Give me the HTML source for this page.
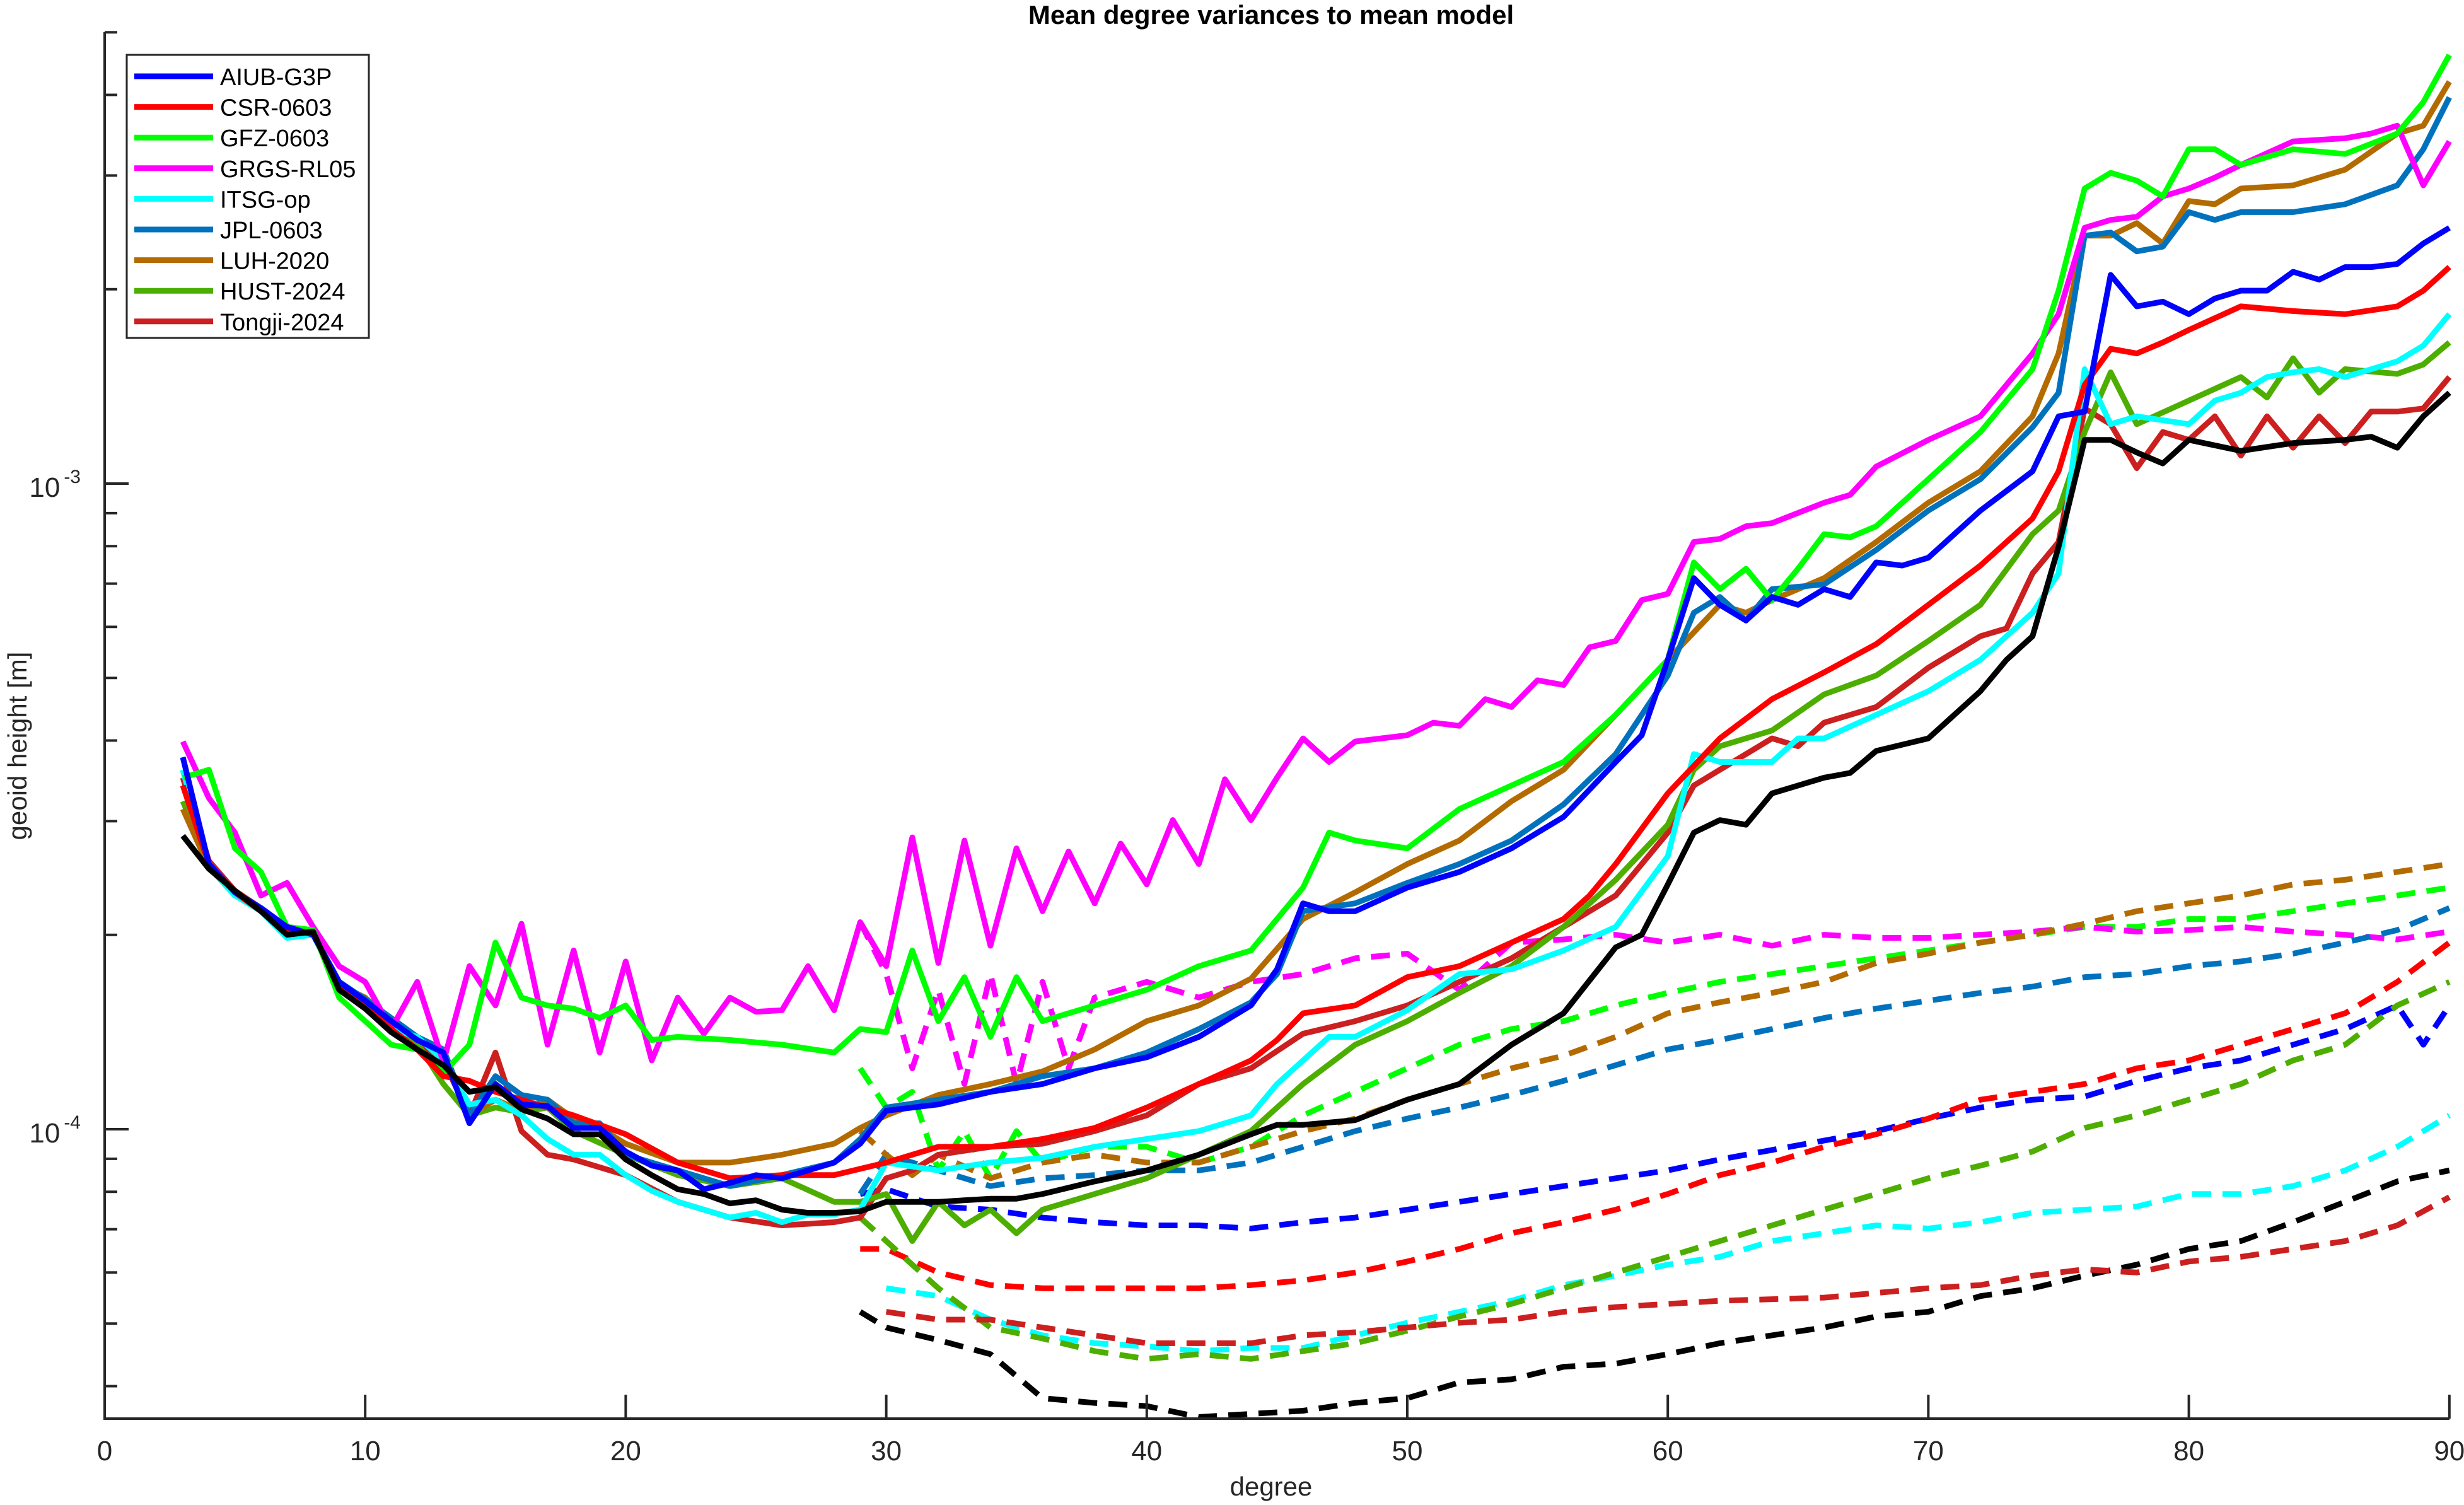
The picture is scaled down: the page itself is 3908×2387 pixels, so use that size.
<!DOCTYPE html>
<html><head><meta charset="utf-8"><style>
html,body{margin:0;padding:0;background:#fff;}
svg{display:block;}
text{font-family:"Liberation Sans",sans-serif;fill:#262626;}
</style></head><body>
<svg id="s" width="3908" height="2387" xmlns="http://www.w3.org/2000/svg">
<rect width="3908" height="2387" fill="#fff"/>
<g id="plot"></g>
<g id="axes" stroke="#262626" stroke-width="4" fill="none"></g>
<text x="2016" y="38" font-size="42" font-weight="bold" text-anchor="middle" style="fill:#000">Mean degree variances to mean model</text>
<text x="2016" y="2372" font-size="42" text-anchor="middle">degree</text>
<text transform="translate(42,1183) rotate(-90)" font-size="42" text-anchor="middle">geoid height [m]</text>
<g font-size="44" text-anchor="end">
<text x="128" y="788">10<tspan font-size="30" dy="-22" dx="6">-3</tspan></text>
<text x="128" y="1812">10<tspan font-size="30" dy="-22" dx="6">-4</tspan></text>
</g>
<g id="xl" font-size="44" text-anchor="middle"></g>
<g id="leg"></g>
</svg>
<script>
var NS="http://www.w3.org/2000/svg";
function X(d){return 166+d*41.32;}
function Y(v){return v*2.4917;}
function el(t,a,p){var e=document.createElementNS(NS,t);for(var k in a)e.setAttribute(k,a[k]);(p||document.getElementById('plot')).appendChild(e);return e;}
function P(s){var a=s.trim().split(/\s+/).map(Number),r=[];for(var i=0;i<a.length;i+=2)r.push([a[i],a[i+1]]);return r;}
var S=[
["#000000",P("3 532 4 553 5 567 6 580 7 595 8 593 9 630 10 642 11 657 12 668 13 678 14 695 15 692 16 706 17 712 18 722 19 722 20 738 21 748 22 757 23 760 24 766 25 764 26 770 27 772 28 772 29 771 30 765 32 765 34 763 35 763 36 760 38 752 40 745 42 735 44 722 45 716 46 716 48 713 50 700 52 690 54 665 56 645 58 603 59 595 60 563 61 530 62 522 63 525 64 505 66 495 67 492 68 478 70 470 71 455 72 440 73 420 74 405 75 348 76 280 77 280 78 288 79 295 80 280 82 287 84 282 86 280 87 278 88 285 89 265 90 250"),
P("29 835 30 845 32 853 34 862 36 890 38 893 40 895 42 902 44 900 46 898 48 893 50 890 52 880 54 878 56 870 58 868 60 862 62 855 64 850 66 845 68 838 70 835 72 825 74 820 76 812 78 805 80 795 82 790 84 778 86 765 88 752 90 745")],
["#0000ff",P("3 482 4 550 5 568 6 578 7 590 8 595 9 625 10 637 11 650 12 662 13 670 14 715 15 690 16 703 17 704 18 718 19 718 20 733 21 742 22 745 23 757 24 753 25 748 26 750 27 745 28 740 29 728 30 707 32 703 34 695 36 690 38 680 40 673 42 660 44 640 45 617 46 575 47 580 48 580 50 565 52 555 54 540 56 520 58 485 59 468 60 420 61 368 62 385 63 395 64 380 65 385 66 375 67 380 68 358 69 360 70 355 72 325 74 300 75 265 76 262 77 175 78 195 79 192 80 200 81 190 82 185 83 185 84 173 85 178 86 170 87 170 88 168 89 155 90 145"),
P("29 760 30 757 32 768 34 770 36 775 38 778 40 780 42 780 44 782 46 778 48 775 50 770 52 765 54 760 56 755 58 750 60 745 62 738 64 732 66 726 68 720 70 712 72 705 74 700 76 698 78 688 80 680 82 675 84 665 86 655 88 640 89 665 90 640")],
["#ff0000",P("3 500 4 550 5 568 6 580 7 593 8 594 9 627 10 640 11 655 12 668 13 685 14 688 15 695 16 700 18 710 20 722 22 740 24 750 26 748 28 748 30 740 32 730 34 730 36 725 38 718 40 705 42 690 44 675 45 662 46 645 48 640 50 622 52 615 54 600 56 585 57 570 58 550 60 505 62 470 64 445 66 428 68 410 70 385 72 360 74 330 75 300 76 245 77 222 78 225 79 218 80 210 82 195 84 198 86 200 88 195 89 185 90 170"),
P("29 795 30 795 32 810 34 818 36 820 38 820 40 820 42 820 44 818 46 815 48 810 50 803 52 795 54 785 56 778 58 770 60 760 62 748 64 740 66 730 68 722 70 712 72 700 74 695 76 690 78 680 80 675 82 665 84 655 86 645 88 625 90 600")],
["#00ff00",P("3 495 4 490 5 540 6 555 7 590 8 592 9 635 10 650 11 665 12 668 13 683 14 665 15 600 16 635 17 640 18 642 19 648 20 640 21 662 22 660 24 662 26 665 28 670 29 655 30 657 31 605 32 650 33 622 34 660 35 622 36 650 38 640 40 630 42 615 44 605 46 565 47 530 48 535 50 540 52 515 54 500 56 485 58 455 60 420 61 358 62 375 63 362 64 382 65 362 66 340 67 342 68 335 70 305 72 275 74 235 75 185 76 120 77 110 78 115 79 125 80 95 81 95 82 105 84 95 86 98 88 85 89 65 90 35"),
P("29 680 30 705 31 695 32 745 33 720 34 750 35 720 36 740 38 730 40 730 42 740 44 730 46 710 48 695 50 680 52 665 54 655 56 650 58 640 60 632 62 625 64 620 66 615 68 610 70 605 72 600 74 595 76 590 78 590 80 585 82 585 84 580 86 575 88 570 90 565")],
["#ff00ff",P("3 472 4 508 5 530 6 570 7 562 8 590 9 615 10 625 11 655 12 625 13 676 14 615 15 640 16 588 17 665 18 605 19 670 20 612 21 675 22 635 23 658 24 635 25 644 26 643 27 615 28 643 29 587 30 615 31 533 32 613 33 535 34 602 35 540 36 580 37 542 38 575 39 537 40 563 41 522 42 550 43 496 44 522 45 495 46 470 47 485 48 472 50 468 51 460 52 462 53 445 54 450 55 433 56 436 57 412 58 408 59 382 60 378 61 345 62 343 63 335 64 333 66 320 67 315 68 297 70 280 72 265 74 225 75 200 76 145 77 140 78 138 79 125 80 120 81 113 82 105 84 90 86 88 87 85 88 80 89 118 90 90"),
P("29 587 30 620 31 680 32 630 33 690 34 620 35 690 36 625 37 680 38 635 40 625 42 635 44 625 46 620 48 610 50 607 52 630 54 600 56 598 58 595 60 600 62 595 64 602 66 595 68 597 70 597 72 595 74 593 76 590 78 593 80 592 82 590 84 593 86 595 88 598 90 593")],
["#00ffff",P("3 490 4 552 5 570 6 580 7 597 8 595 9 628 10 640 11 655 12 660 13 675 14 703 15 700 16 710 17 725 18 735 19 735 20 748 21 758 22 765 23 770 24 775 25 772 26 778 27 773 28 773 29 770 30 740 32 745 34 740 36 737 38 730 40 725 42 720 44 710 45 690 46 675 47 660 48 660 50 643 52 620 54 617 56 605 58 590 60 545 61 480 62 485 64 485 65 470 66 470 68 455 70 440 72 420 74 390 75 365 76 235 77 270 78 265 80 270 81 255 82 250 83 240 84 237 85 235 86 240 88 230 89 220 90 200"),
P("30 820 32 825 34 840 36 850 38 855 40 857 42 860 44 858 46 858 48 850 50 842 52 835 54 828 56 818 58 812 60 805 62 800 64 790 66 785 68 780 70 782 72 778 74 772 76 770 78 768 80 760 82 760 84 755 86 745 88 730 90 710")],
["#0072bd",P("3 490 4 550 5 568 6 578 7 590 8 594 9 625 10 636 11 648 12 660 13 668 14 710 15 685 16 697 17 700 18 715 19 715 20 735 22 745 24 755 26 748 28 740 29 725 30 705 32 700 34 695 36 685 38 680 40 670 42 655 44 638 45 620 46 580 48 575 50 562 52 550 54 535 56 512 58 480 60 430 61 390 62 380 63 395 64 375 66 372 68 350 70 325 72 305 74 272 75 250 76 150 77 148 78 160 79 157 80 135 81 140 82 135 84 135 86 130 88 118 89 95 90 62"),
P("29 760 30 735 32 745 34 755 36 750 38 748 40 745 42 745 44 740 46 730 48 720 50 712 52 705 54 697 56 688 58 678 60 668 62 662 64 655 66 648 68 642 70 637 72 632 74 628 76 622 78 620 80 615 82 612 84 607 86 600 88 592 90 578")],
["#b36b00",P("3 515 4 552 5 570 6 578 7 593 8 593 9 627 10 635 11 650 12 662 13 668 14 710 15 700 16 707 17 700 18 712 19 718 20 728 22 740 24 740 26 735 28 728 29 718 30 710 32 697 34 690 36 682 38 668 40 650 42 640 44 623 46 585 48 568 50 550 52 535 54 510 56 490 58 455 60 420 62 385 63 390 64 382 66 368 68 345 70 320 72 300 74 265 75 225 76 150 77 150 78 142 79 155 80 128 81 130 82 120 84 118 86 108 88 85 89 80 90 52"),
P("29 720 30 735 31 748 32 735 34 750 36 740 38 735 40 740 42 740 44 730 46 720 48 712 50 700 52 690 54 680 56 672 58 660 60 645 62 638 64 632 66 625 68 613 70 607 72 600 74 595 76 588 78 580 80 575 82 570 84 563 86 560 88 555 90 550")],
["#4dae00",P("3 510 4 550 5 569 6 580 7 593 8 594 9 628 10 638 11 652 12 664 13 690 14 710 15 705 16 708 17 705 18 720 20 735 22 748 24 755 26 750 28 765 29 765 30 760 31 790 32 765 33 780 34 770 35 785 36 770 38 760 40 750 42 735 44 720 46 690 48 665 50 650 52 632 54 615 56 590 58 560 60 525 61 490 62 475 63 470 64 465 66 442 68 430 70 408 72 385 74 340 75 325 76 275 77 237 78 270 80 255 82 240 83 253 84 228 85 250 86 235 88 238 89 232 90 218"),
P("29 775 30 790 32 820 34 845 36 852 38 860 40 865 42 862 44 865 46 860 48 855 50 847 52 838 54 830 56 820 58 810 60 800 62 790 64 780 66 770 68 760 70 750 72 742 74 733 76 718 78 710 80 700 82 690 84 675 86 665 88 640 90 625")],
["#cc1f1f",P("3 495 4 548 5 567 6 578 7 592 8 593 9 627 10 638 11 652 12 664 13 675 14 710 15 670 16 720 17 735 18 738 20 748 22 765 24 775 26 780 28 778 29 775 30 750 31 745 32 735 34 730 36 728 38 720 40 710 42 690 44 680 46 658 48 650 50 640 52 625 54 610 56 590 58 570 60 530 61 500 62 490 63 480 64 470 65 475 66 460 68 450 70 425 72 405 73 400 74 365 75 345 76 260 77 270 78 298 79 275 80 280 81 265 82 290 83 265 84 285 85 265 86 282 87 262 88 262 89 260 90 240"),
P("30 835 32 840 34 840 36 845 38 850 40 855 42 855 44 855 46 850 48 848 50 845 52 842 54 840 56 835 58 832 60 830 62 828 64 827 66 826 68 823 70 820 72 818 74 812 76 808 78 810 80 803 82 800 84 795 86 790 88 780 90 762")]
];
function pts(a){return a.map(function(p){return X(p[0]).toFixed(1)+","+Y(p[1]).toFixed(1);}).join(" ");}
S.forEach(function(s){el('polyline',{points:pts(s[2]),fill:'none',stroke:s[0],'stroke-width':9,'stroke-dasharray':'30 18','stroke-linejoin':'round'});});
for(var i=S.length-1;i>=0;i--){el('polyline',{points:pts(S[i][1]),fill:'none',stroke:S[i][0],'stroke-width':9,'stroke-linejoin':'round'});}
var ax=document.getElementById('axes');
el('path',{d:'M166 51 V2250 H3885'},ax);
var xl=document.getElementById('xl');
for(var d=0;d<=90;d+=10){var x=X(d);el('path',{d:'M'+x+' 2250 V2212'},ax);var t=el('text',{x:x,y:2316},xl);t.textContent=d;}
var y3=767,dec=1024;
function YV(v){return y3-(Math.log10(v)+3)*dec;}
[4e-5,5e-5,6e-5,7e-5,8e-5,9e-5,2e-4,3e-4,4e-4,5e-4,6e-4,7e-4,8e-4,9e-4,2e-3,3e-3,4e-3,5e-3].forEach(function(v){var y=YV(v);el('path',{d:'M166 '+y.toFixed(1)+' H186'},ax);});
[1e-4,1e-3].forEach(function(v){var y=YV(v);el('path',{d:'M166 '+y.toFixed(1)+' H204'},ax);});
var lg=document.getElementById('leg');
el('rect',{x:201,y:87,width:384,height:449,fill:'#fff',stroke:'#262626','stroke-width':3},lg);
var names=["AIUB-G3P","CSR-0603","GFZ-0603","GRGS-RL05","ITSG-op","JPL-0603","LUH-2020","HUST-2024","Tongji-2024"];
var cols=["#0000ff","#ff0000","#00ff00","#ff00ff","#00ffff","#0072bd","#b36b00","#4dae00","#cc1f1f"];
for(var k=0;k<9;k++){var y=121+k*48.6;el('path',{d:'M213 '+y+' H338',stroke:cols[k],'stroke-width':9},lg);var t=el('text',{x:349,y:y+14,'font-size':38,style:'fill:#000'},lg);t.textContent=names[k];}
</script>
</body></html>
